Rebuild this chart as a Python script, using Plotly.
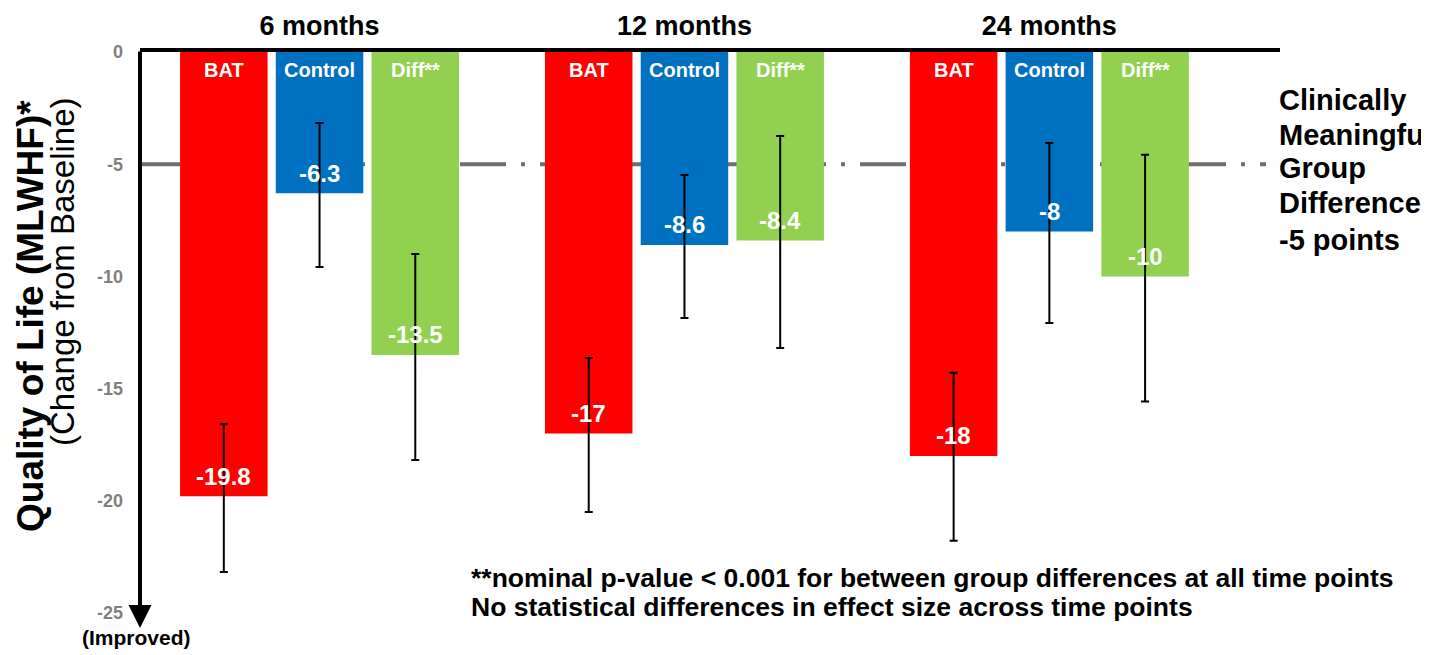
import plotly.graph_objects as go

# ---- data ----
groups = ["6 months", "12 months", "24 months"]
series_names = ["BAT", "Control", "Diff**"]
bat = [-19.8, -17, -18]
control = [-6.3, -8.6, -8]
diff = [-13.5, -8.4, -10]
# error bars: "plus" = toward zero, "minus" = away from zero
bat_err_plus = [3.22, 3.36, 3.71]
bat_err_minus = [3.37, 3.5, 3.78]
control_err_plus = [3.14, 3.12, 3.94]
control_err_minus = [3.28, 3.25, 4.08]
diff_err_plus = [4.5, 4.66, 5.42]
diff_err_minus = [4.68, 4.79, 5.58]
value_labels_bat = ["-19.8", "-17", "-18"]
value_labels_control = ["-6.3", "-8.6", "-8"]
value_labels_diff = ["-13.5", "-8.4", "-10"]
y_ticks = [0, -5, -10, -15, -20, -25]
threshold = -5
threshold_lines = ["Clinically", "Meaningful", "Group", "Difference", "-5 points"]
footnotes = ["**nominal p-value < 0.001 for between group differences at all time points",
             "No statistical differences in effect size across time points"]
colors = ["#FF0000", "#0070C0", "#92D050"]

FONT = "Liberation Sans, Arial, Helvetica, sans-serif"

# page has an 8px body margin; figure sized to fit the 1429x655 viewport
OFF = 8
W, H = 1429 - OFF, 655 - OFF
ML, MT = 140 - OFF, 52 - OFF
PW, PH = 1140, 561
MR, MB = W - ML - PW, H - MT - PH
bargap = 0.213
bargroupgap = 0.086

def px2paper_x(px):  # page pixel -> paper
    return (px - OFF - ML) / PW

def px2paper_y(py):
    return (H - MB - (py - OFF)) / PH

fig = go.Figure()
all_vals = [bat, control, diff]
all_plus = [bat_err_plus, control_err_plus, diff_err_plus]
all_minus = [bat_err_minus, control_err_minus, diff_err_minus]
all_labels = [value_labels_bat, value_labels_control, value_labels_diff]

for name, vals, ep, em, col in zip(series_names, all_vals, all_plus, all_minus, colors):
    fig.add_trace(go.Bar(
        name=name, x=groups, y=vals, marker=dict(color=col, line=dict(width=0)),
        error_y=dict(type="data", symmetric=False, array=ep, arrayminus=em,
                     color="black", thickness=2, width=4),
        showlegend=False, hoverinfo="skip",
    ))

annotations = []
slot = (1 - bargap) / 3
for k, (name, vals, labs) in enumerate(zip(series_names, all_vals, all_labels)):
    off = (k - 1) * slot
    for i, (v, lab) in enumerate(zip(vals, labs)):
        annotations.append(dict(x=i + off, y=v, xref="x", yref="y", text=f"<b>{lab}</b>",
                                showarrow=False, yshift=20, yanchor="middle",
                                font=dict(family=FONT, size=24, color="white")))
        annotations.append(dict(x=i + off, y=0, xref="x", yref="y", text=f"<b>{name}</b>",
                                showarrow=False, yshift=-18, yanchor="middle",
                                font=dict(family=FONT, size=20, color="white")))

# y axis arrow
annotations.append(dict(x=0, y=px2paper_y(628), xref="paper", yref="paper",
                        ax=0, ay=-(628 - 50), axref="pixel", ayref="pixel",
                        showarrow=True, arrowhead=2, arrowwidth=4, arrowsize=1.15,
                        arrowcolor="black", text=""))
annotations.append(dict(x=px2paper_x(136), y=px2paper_y(637), xref="paper", yref="paper",
                        text="<b>(Improved)</b>", showarrow=False, xanchor="center", yanchor="middle",
                        font=dict(family=FONT, size=21, color="black")))
# y titles
annotations.append(dict(x=px2paper_x(30), y=px2paper_y(316), xref="paper", yref="paper",
                        text="<b>Quality of Life (MLWHF)*</b>", textangle=-90, showarrow=False,
                        xanchor="center", yanchor="middle",
                        font=dict(family=FONT, size=37, color="black")))
annotations.append(dict(x=px2paper_x(62), y=px2paper_y(272), xref="paper", yref="paper",
                        text="(Change from Baseline)", textangle=-90, showarrow=False,
                        xanchor="center", yanchor="middle",
                        font=dict(family=FONT, size=33, color="black")))
# right text (one annotation per line)
for line_text, py in zip(threshold_lines, [100, 135, 168, 203, 240]):
    annotations.append(dict(x=px2paper_x(1277), y=px2paper_y(py), xref="paper", yref="paper",
                            text=f"<b>{line_text}</b>", showarrow=False, xanchor="left",
                            yanchor="middle", align="left",
                            font=dict(family=FONT, size=29, color="black")))
# footnotes
for line_text, py in zip(footnotes, [578, 607]):
    annotations.append(dict(x=px2paper_x(469), y=px2paper_y(py), xref="paper", yref="paper",
                            text=f"<b>{line_text}</b>", showarrow=False, xanchor="left",
                            yanchor="middle", font=dict(family=FONT, size=26.5, color="black")))

shapes = [dict(type="line", xref="paper", yref="y", x0=0, x1=px2paper_x(1266),
               y0=threshold, y1=threshold, layer="below",
               line=dict(color="#6e6e6e", width=4, dash="46px,15px,4px,15px"))]

fig.update_layout(
    width=W, height=H, margin=dict(l=ML, r=MR, t=MT, b=MB, autoexpand=False),
    paper_bgcolor="white", plot_bgcolor="white",
    barmode="group", bargap=bargap, bargroupgap=bargroupgap,
    xaxis=dict(type="category", side="top", range=[-0.492, 2.632], showline=True,
               linecolor="black", linewidth=4, showgrid=False, zeroline=False, ticks="",
               tickfont=dict(family=FONT, size=27, color="black"), ticklabelstandoff=2,
               tickvals=groups, ticktext=[f"<b>{g}</b>" for g in groups]),
    yaxis=dict(range=[-25, 0], tickvals=y_ticks, ticktext=[f"<b>{t}</b>" for t in y_ticks],
               showline=False, showgrid=False, zeroline=False, ticks="",
               tickfont=dict(family=FONT, size=18, color="#7f7f7f"), ticklabelstandoff=16),
    annotations=annotations, shapes=shapes,
)

fig.write_html("out.html")
